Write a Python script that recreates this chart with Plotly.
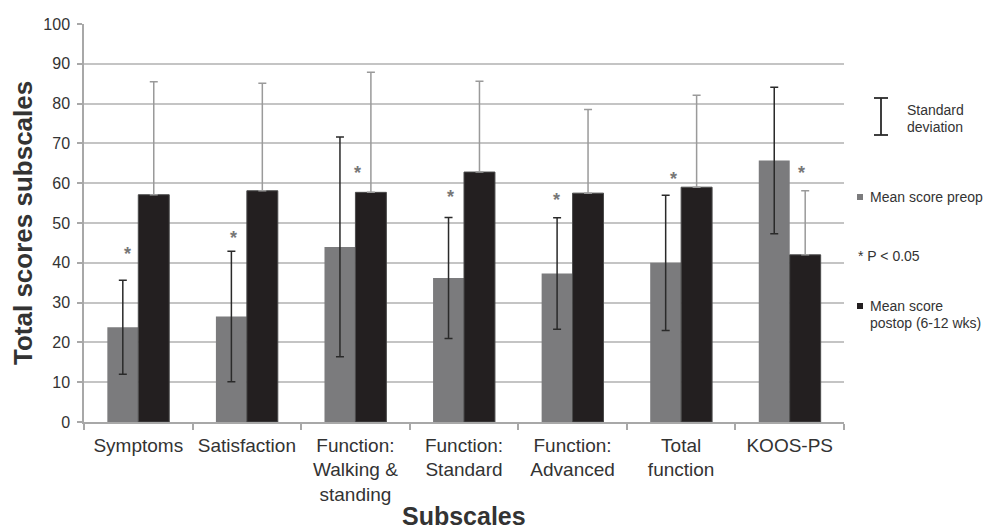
import plotly.graph_objects as go

# ---- data ----
categories = ["Symptoms", "Satisfaction", "Function:<br>Walking &<br>standing",
              "Function:<br>Standard", "Function:<br>Advanced", "Total<br>function", "KOOS-PS"]
preop_mean = [23.8, 26.5, 44.0, 36.2, 37.3, 40.0, 65.7]
preop_sd = [11.8, 16.4, 27.6, 15.2, 14.0, 17.0, 18.4]
postop_mean = [57.1, 58.1, 57.7, 62.8, 57.5, 59.0, 42.0]
postop_sd = [28.4, 27.0, 30.2, 22.8, 21.0, 23.1, 16.1]
star_y = [42.6, 46.8, 63.0, 57.1, 56.4, 61.5, 63.0]
star_dx = [-0.095, -0.119, 0.023, -0.12, -0.145, -0.067, 0.108]

# ---- layout geometry (pixels) ----
W, H = 985, 531
L, R, T, B = 84, 844, 24, 422   # plot area


def px_x(px):
    return (px - L) / (R - L)


def px_y(py):
    return (B - py) / (B - T)


GRAY = "#7b7b7d"
BLACK = "#231f20"
TXT = "#333333"
FONT = "Liberation Sans, Arial, sans-serif"

fig = go.Figure()
fig.add_trace(go.Bar(
    x=categories, y=preop_mean, name="Mean score preop",
    marker=dict(color=GRAY, line=dict(width=0)),
    error_y=dict(type="data", array=preop_sd, visible=True,
                 color="#2a2a2a", thickness=1.5, width=4),
))
fig.add_trace(go.Bar(
    x=categories, y=postop_mean, name="Mean score postop (6-12 wks)",
    marker=dict(color=BLACK, line=dict(width=1, color="#4a4a4a")),
    error_y=dict(type="data", symmetric=False, array=postop_sd,
                 arrayminus=[0] * len(postop_sd), visible=True,
                 color="#9a9a9a", thickness=1.5, width=4),
))

annotations = []
for i, (sy, dx) in enumerate(zip(star_y, star_dx)):
    annotations.append(dict(x=i + dx, y=sy, xref="x", yref="y", text="<b>*</b>",
                            showarrow=False, yanchor="middle", yshift=-2,
                            font=dict(size=18, color="#777777", family=FONT)))

# axis titles
annotations.append(dict(x=px_x(464), y=px_y(531), xref="paper", yref="paper",
                        text="<b>Subscales</b>", showarrow=False,
                        xanchor="center", yanchor="bottom", borderpad=0,
                        font=dict(size=25, color=TXT, family=FONT)))
annotations.append(dict(x=px_x(23), y=px_y(223), xref="paper", yref="paper",
                        text="<b>Total scores subscales</b>", showarrow=False,
                        textangle=-90, xanchor="center", yanchor="middle",
                        font=dict(size=26, color=TXT, family=FONT)))

# custom legend
leg_font = dict(size=14, color=TXT, family=FONT)
for txt, xp, yp in [("Standard", 905, 110), ("deviation", 905, 127),
                    ("Mean score preop", 868, 197), ("* P < 0.05", 856, 256),
                    ("Mean score", 868, 306), ("postop (6-12 wks)", 868, 323)]:
    annotations.append(dict(x=px_x(xp), y=px_y(yp), xref="paper", yref="paper",
                            text=txt, showarrow=False, xanchor="left",
                            yanchor="middle", font=leg_font))

shapes = [
    # standard deviation I-beam
    dict(type="line", xref="paper", yref="paper", x0=px_x(881), x1=px_x(881),
         y0=px_y(98), y1=px_y(135), line=dict(color="#2a2a2a", width=1.8)),
    dict(type="line", xref="paper", yref="paper", x0=px_x(874), x1=px_x(888),
         y0=px_y(98), y1=px_y(98), line=dict(color="#2a2a2a", width=1.8)),
    dict(type="line", xref="paper", yref="paper", x0=px_x(874), x1=px_x(888),
         y0=px_y(135), y1=px_y(135), line=dict(color="#2a2a2a", width=1.8)),
    # legend squares
    dict(type="rect", xref="paper", yref="paper", x0=px_x(857), x1=px_x(863),
         y0=px_y(200), y1=px_y(194), fillcolor=GRAY, line=dict(width=0)),
    dict(type="rect", xref="paper", yref="paper", x0=px_x(857), x1=px_x(863),
         y0=px_y(309), y1=px_y(303), fillcolor=BLACK, line=dict(width=0)),
]

fig.update_layout(
    width=W, height=H,
    margin=dict(l=L, r=W - R, t=T, b=H - B, autoexpand=False),
    paper_bgcolor="white", plot_bgcolor="white",
    barmode="group", bargap=0.43, bargroupgap=0,
    showlegend=False,
    font=dict(family=FONT, color=TXT),
    annotations=annotations, shapes=shapes,
)
fig.update_xaxes(
    showgrid=False, showline=True, linecolor="#a8a8a8", linewidth=1.5,
    ticks="outside", tickson="boundaries", ticklen=6, tickcolor="#a8a8a8",
    tickwidth=1.5, tickfont=dict(size=19, color=TXT, family=FONT),
    ticklabelstandoff=5,
)
fig.update_yaxes(
    range=[0, 100], dtick=10, showgrid=True, gridcolor="#c4c4c4", gridwidth=1.5,
    showline=True, linecolor="#a8a8a8", linewidth=1.5,
    ticks="outside", ticklen=5, tickcolor="#a8a8a8", tickwidth=1.5,
    tickfont=dict(size=16, color=TXT, family=FONT), ticklabelstandoff=4,
    zeroline=False,
)

fig.write_html(
    "out.html",
    config={"displayModeBar": False},
    post_script="document.body.style.margin='0';document.body.style.overflow='hidden';",
)
